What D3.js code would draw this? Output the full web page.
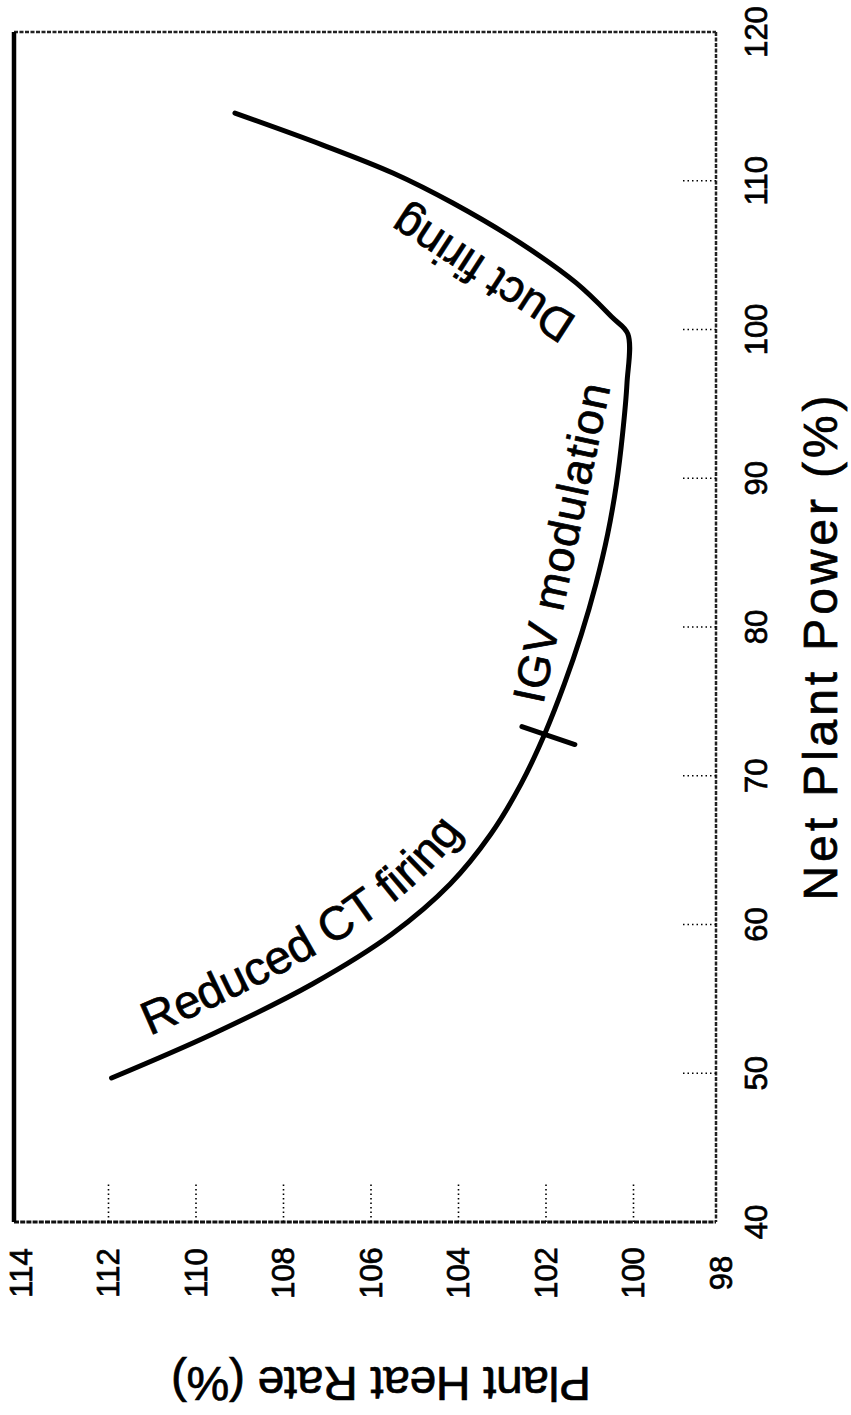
<!DOCTYPE html>
<html><head><meta charset="utf-8">
<script src="https://cdn.jsdelivr.net/npm/d3@7"></script>
<style>
html,body{margin:0;padding:0;background:#fff;}
svg{display:block;}
text{font-family:"Liberation Sans",Arial,Helvetica,sans-serif;fill:#000;}
</style>
</head><body>
<svg id="c" width="851" height="1415"></svg>
<script>
// ---- data (original chart is rotated 90° CCW on the page) ----
const powerTicks = [40, 50, 60, 70, 80, 90, 100, 110, 120];     // Net Plant Power (%)
const heatTicks  = [114, 112, 110, 108, 106, 104, 102, 100, 98]; // Plant Heat Rate (%)

const power = [49.68, 52.64, 56.00, 59.36, 62.72, 66.08, 69.45, 72.81, 76.17, 79.53, 82.89,
               86.25, 89.61, 92.97, 96.34, 99.70, 100.77, 103.13, 105.82, 108.50, 110.52, 112.40, 114.55];
const heat  = [111.93, 109.62, 107.34, 105.52, 104.19, 103.26, 102.57, 102.03, 101.58, 101.19, 100.86,
               100.59, 100.39, 100.25, 100.15, 100.13, 100.47, 101.31, 102.59, 104.13, 105.50, 107.10, 109.11];

const markerPower = [73.3, 72.1];
const markerHeat  = [102.55, 101.34];

const labelTexts = ["Reduced CT firing", "IGV modulation", "Duct firing"];
const labelPower = [null, 74.76, 100.77];
const labelHeat  = [null, 102.07, 101.27];

const xTitle = "Net Plant Power (%)";
const yTitle = "Plant Heat Rate (%)";

// ---- scales ----
const y = d3.scaleLinear().domain([40, 120]).range([1222, 32]);   // power -> vertical
const x = d3.scaleLinear().domain([114, 98]).range([21, 721]);    // heat  -> horizontal

const svg = d3.select("#c");
const frameL = 14, frameR = 716, frameT = y(120), frameB = y(40);

// frame
svg.append("line").attr("x1", frameL).attr("x2", frameR).attr("y1", frameT).attr("y2", frameT)
  .attr("stroke", "#222").attr("stroke-width", 2.5).attr("stroke-dasharray", "4,1.5");
svg.append("line").attr("x1", frameR).attr("x2", frameR).attr("y1", frameT).attr("y2", frameB)
  .attr("stroke", "#222").attr("stroke-width", 2.5).attr("stroke-dasharray", "4,1.5");
svg.append("line").attr("x1", frameL).attr("x2", frameR).attr("y1", frameB).attr("y2", frameB)
  .attr("stroke", "#111").attr("stroke-width", 3).attr("stroke-dasharray", "5,1.2");
svg.append("line").attr("x1", frameL).attr("x2", frameL).attr("y1", frameT).attr("y2", frameB)
  .attr("stroke", "#000").attr("stroke-width", 4.5);

// dotted tick stubs
svg.selectAll(".hgrid").data(heatTicks.slice(1, -1)).join("line")
  .attr("x1", d => x(d)).attr("x2", d => x(d))
  .attr("y1", frameB).attr("y2", frameB - 38)
  .attr("stroke", "#000").attr("stroke-width", 1.6).attr("stroke-dasharray", "1.5,3");
svg.selectAll(".pgrid").data(powerTicks.slice(1, -1)).join("line")
  .attr("x1", frameR).attr("x2", frameR - 34)
  .attr("y1", d => y(d)).attr("y2", d => y(d))
  .attr("stroke", "#000").attr("stroke-width", 1.6).attr("stroke-dasharray", "1.5,3");

const ink = sel => sel.attr("stroke", "#000").attr("stroke-width", 0.7);

// tick labels
svg.selectAll(".plab").data(powerTicks).join("text")
  .attr("transform", d => `translate(756,${y(d)}) rotate(-90)`)
  .attr("text-anchor", "middle").attr("dy", "0.35em").attr("font-size", 31)
  .call(ink).text(d => d);
svg.selectAll(".hlab").data(heatTicks).join("text")
  .attr("transform", d => `translate(${x(d)},1273) rotate(-90)`)
  .attr("text-anchor", "middle").attr("dy", "0.35em").attr("font-size", 31)
  .call(ink).text(d => d);

// axis titles
svg.append("text").attr("transform", "translate(820,648) rotate(-90)")
  .attr("text-anchor", "middle").attr("dy", "0.35em").attr("font-size", 48)
  .attr("textLength", 505).attr("lengthAdjust", "spacing").call(ink).text(xTitle);
svg.append("text").attr("transform", "translate(381,1384) rotate(180)")
  .attr("text-anchor", "middle").attr("dy", "0.35em").attr("font-size", 48)
  .attr("textLength", 420).attr("lengthAdjust", "spacing").call(ink).text(yTitle);

// curve
const pts = power.map((p, i) => [x(heat[i]), y(p)]);
const line = d3.line().curve(d3.curveCatmullRom.alpha(0.5));
svg.append("path").attr("d", line(pts)).attr("fill", "none")
  .attr("stroke", "#000").attr("stroke-width", 5).attr("stroke-linecap", "round").attr("stroke-linejoin", "round");

// marker
svg.append("line")
  .attr("x1", x(markerHeat[0])).attr("y1", y(markerPower[0]))
  .attr("x2", x(markerHeat[1])).attr("y2", y(markerPower[1]))
  .attr("stroke", "#000").attr("stroke-width", 5).attr("stroke-linecap", "round");

// curved label along an offset of the curve
function offsetPts(p, d) {
  return p.map((q, i) => {
    const a = p[Math.max(0, i - 1)], b = p[Math.min(p.length - 1, i + 1)];
    const dx = b[0] - a[0], dy = b[1] - a[1], L = Math.hypot(dx, dy);
    return [q[0] + d * dy / L, q[1] - d * dx / L];
  });
}
const lowPts = pts.filter((q, i) => power[i] <= 78);
svg.append("defs").append("path").attr("id", "rct")
  .attr("d", line(offsetPts(lowPts, 24)));
svg.append("text").attr("font-size", 47).call(ink)
  .append("textPath").attr("href", "#rct").attr("startOffset", 52).text(labelTexts[0]);

// straight rotated labels
svg.append("text")
  .attr("transform", `translate(${x(labelHeat[1])},${y(labelPower[1])}) rotate(-78)`)
  .attr("font-size", 45).attr("textLength", 325).attr("lengthAdjust", "spacing")
  .call(ink).text(labelTexts[1]);
svg.append("text")
  .attr("transform", `translate(${x(labelHeat[2])},${y(labelPower[2])}) rotate(213)`)
  .attr("font-size", 46).call(ink)
  .text(labelTexts[2]);
</script>
</body></html>
